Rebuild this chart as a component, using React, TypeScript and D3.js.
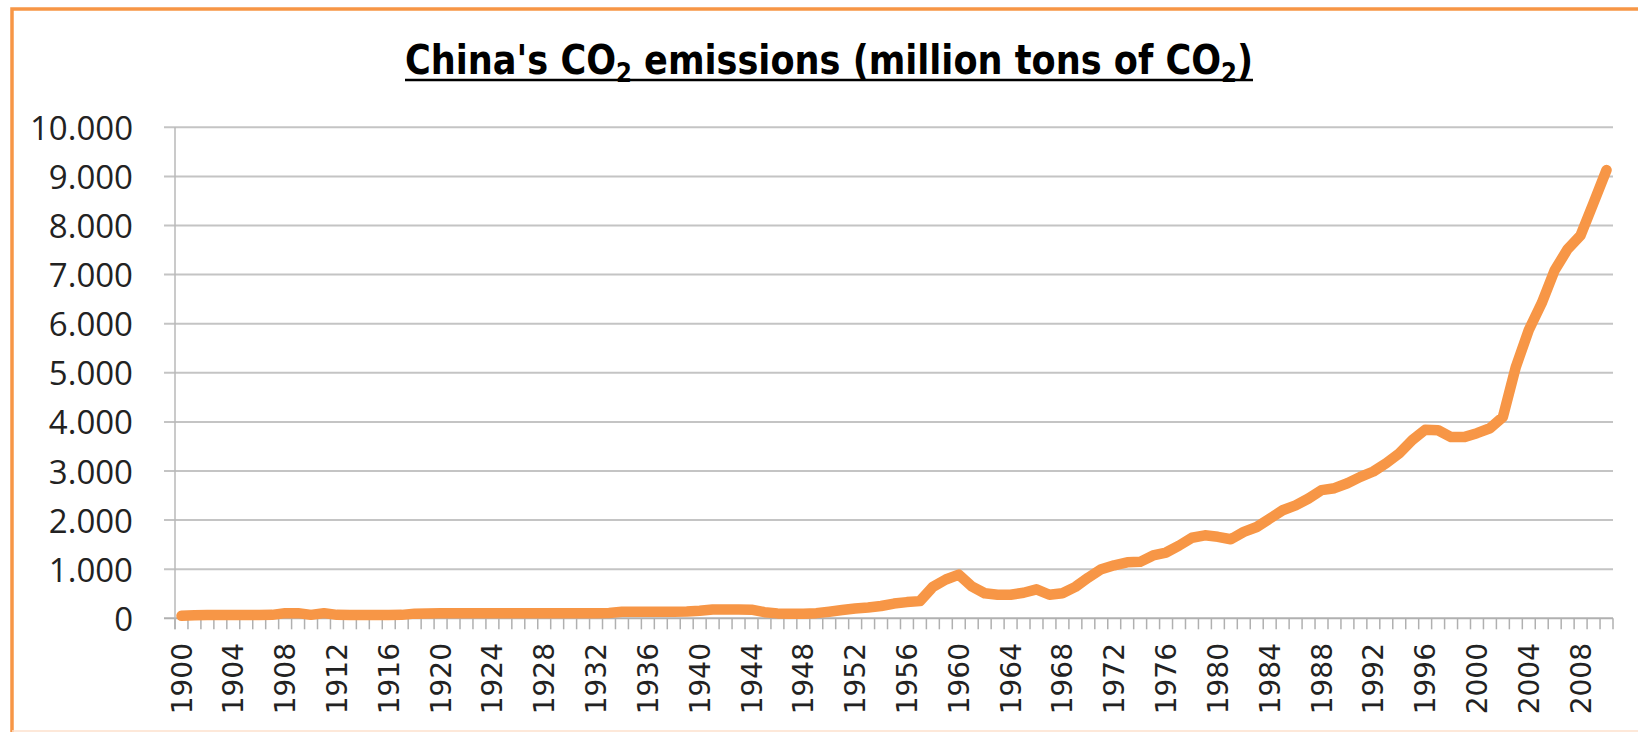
import React from "react";
import * as d3 from "d3";

// Categories: one per year, 1900–2010
const years: number[] = d3.range(1900, 2011);

// China's CO2 emissions, million tons of CO2 (1900–2010)
const emissions: number[] = [
  // 1900–1909
  50, 60, 65, 65, 65, 65, 65, 70, 105, 105,
  // 1910–1919
  70, 105, 70, 65, 65, 65, 65, 70, 95, 100,
  // 1920–1929
  105, 105, 105, 105, 105, 105, 105, 105, 105, 105,
  // 1930–1939
  105, 105, 105, 110, 135, 135, 135, 135, 135, 140,
  // 1940–1949
  155, 180, 180, 180, 175, 125, 100, 95, 95, 105,
  // 1950–1959
  135, 170, 200, 220, 250, 300, 330, 350, 640, 790,
  // 1960–1969
  890, 650, 510, 480, 480, 520, 590, 480, 510, 640,
  // 1970–1979
  830, 1000, 1080, 1140, 1150, 1280, 1340, 1480, 1640, 1690,
  // 1980–1989
  1660, 1610, 1760, 1860, 2030, 2200, 2300, 2440, 2610, 2650,
  // 1990–1999
  2750, 2880, 2990, 3160, 3360, 3630, 3840, 3830, 3690, 3690,
  // 2000–2009
  3770, 3870, 4100, 5120, 5870, 6420, 7090, 7520, 7800, 8460,
  // 2010
  9130,
];

const yTicks: number[] = [0, 1000, 2000, 3000, 4000, 5000, 6000, 7000, 8000, 9000, 10000];
const yTickLabels: string[] = ["0", "1.000", "2.000", "3.000", "4.000", "5.000", "6.000", "7.000", "8.000", "9.000", "10.000"];
const xLabelYears: number[] = d3.range(1900, 2011, 4);

const W = 1638;
const H = 732;
const plotLeft = 175;
const plotRight = 1613;
const plotTop = 127.3;
const plotBottom = 618.3;
const orange = "#F79646";

export default function App() {
  const x = d3.scaleBand<number>().domain(years).range([plotLeft, plotRight]).padding(0);
  const y = d3.scaleLinear().domain([0, 10000]).range([plotBottom, plotTop]);
  const cx = (yr: number) => (x(yr) as number) + x.bandwidth() / 2;

  const line = d3
    .line<number>()
    .x((_, i) => cx(years[i]))
    .y((d) => y(d))
    .curve(d3.curveLinear);

  const bounds = [...years.map((yr) => x(yr) as number), plotRight];

  const xFont = 28;

  return (
    <svg
      width={W}
      height={H}
      style={{ position: "absolute", left: 0, top: 0, background: "#fff" }}
    >
      {/* chart frame */}
      <path d={`M12,${H + 2} L12,9 L${W + 2},9`} fill="none" stroke={orange} strokeWidth={3.5} />
      <line x1={12} x2={W} y1={731} y2={731} stroke="#FCE0CC" strokeWidth={1.5} />

      {/* title */}
      <text
        x={405}
        y={74}
        fontFamily="'Liberation Sans Narrow', 'DejaVu Sans Condensed', 'Open Sans', sans-serif"
        fontWeight="bold"
        fontSize={40}
        fill="#000"
        textLength={848}
        lengthAdjust="spacingAndGlyphs"
      >
        China's CO
        <tspan fontSize={26} dy={8}>2</tspan>
        <tspan dy={-8}> emissions (million tons of CO</tspan>
        <tspan fontSize={26} dy={8}>2</tspan>
        <tspan dy={-8}>)</tspan>
      </text>
      <line x1={405} x2={1253} y1={80} y2={80} stroke="#000" strokeWidth={2.5} />

      {/* horizontal gridlines + y ticks */}
      {yTicks.map((t) => (
        <line
          key={`g${t}`}
          x1={164}
          x2={plotRight}
          y1={y(t)}
          y2={y(t)}
          stroke={t === 0 ? "#B0B0B0" : "#C4C4C4"}
          strokeWidth={2}
        />
      ))}
      {/* y axis line */}
      <line x1={plotLeft} x2={plotLeft} y1={plotTop} y2={plotBottom + 11} stroke="#B8B8B8" strokeWidth={1.5} />

      {/* y tick labels */}
      {yTicks.map((t, i) => (
        <text
          key={`yl${t}`}
          x={133}
          y={y(t)}
          textAnchor="end"
          dominantBaseline="central"
          fontFamily="'Open Sans', sans-serif"
          fontSize={33}
          fill="#222"
        >
          {yTickLabels[i]}
        </text>
      ))}

      {/* x axis tick marks at category boundaries */}
      {bounds.map((bx, i) => (
        <line
          key={`xt${i}`}
          x1={bx}
          x2={bx}
          y1={plotBottom}
          y2={plotBottom + 11}
          stroke="#B0B0B0"
          strokeWidth={1.5}
        />
      ))}

      {/* x tick labels (every 4 years) */}
      {xLabelYears.map((yr) => {
        const lx = cx(yr) + xFont * 0.36;
        const ly = 643;
        return (
          <text
            key={`xl${yr}`}
            x={lx}
            y={ly}
            transform={`rotate(-90 ${lx} ${ly})`}
            textAnchor="end"
            fontFamily="'DejaVu Sans', sans-serif"
            fontSize={xFont}
            fill="#222"
          >
            {yr}
          </text>
        );
      })}

      {/* emissions line */}
      <path
        d={line(emissions) || ""}
        fill="none"
        stroke={orange}
        strokeWidth={10.5}
        strokeLinejoin="round"
        strokeLinecap="round"
      />
    </svg>
  );
}
